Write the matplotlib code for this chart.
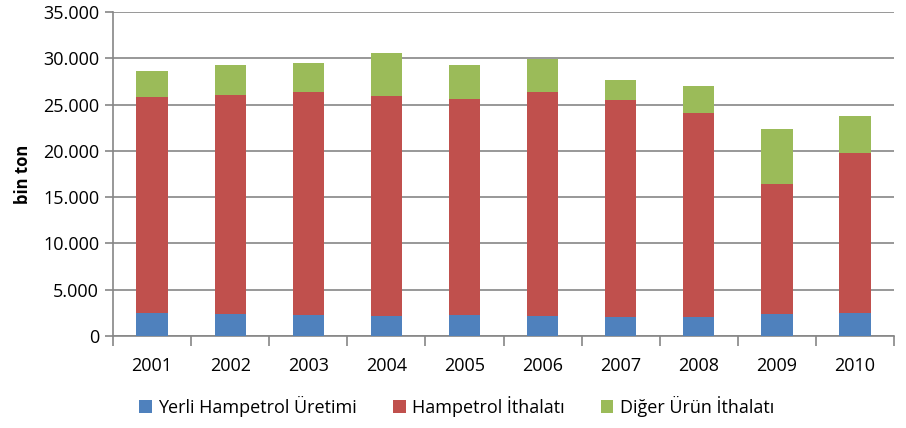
import matplotlib
matplotlib.use("Agg")
import matplotlib.pyplot as plt
import matplotlib.ticker as mticker
import numpy as np

# bin ton
years = ["2001", "2002", "2003", "2004", "2005", "2006", "2007", "2008", "2009", "2010"]
yerli = [2480, 2410, 2270, 2200, 2270, 2200, 2050, 2050, 2410, 2480]
hampetrol_ithalat = [23320, 23590, 24080, 23700, 23330, 24150, 23450, 22030, 13990, 17280]
diger_urun = [2800, 3270, 3150, 4660, 3670, 3550, 2150, 2920, 5950, 4000]
labels = ["Yerli Hampetrol Üretimi", "Hampetrol İthalatı", "Diğer Ürün İthalatı"]

plt.rcParams['font.family'] = ['Open Sans', 'DejaVu Sans']
grid_col = "#868686"

fig = plt.figure(figsize=(9.06, 4.28), dpi=100)
fig.set_facecolor("w")
ax = fig.add_axes([0.1247, 0.215, 0.8621, 0.757])

x = np.arange(len(years))
w = 0.4
b1 = ax.bar(x, yerli, width=w, color="#4F81BD", label=labels[0], zorder=3)
b2 = ax.bar(x, hampetrol_ithalat, width=w, bottom=yerli, color="#C0504D",
            label=labels[1], zorder=3)
bottom2 = np.array(yerli) + np.array(hampetrol_ithalat)
b3 = ax.bar(x, diger_urun, width=w, bottom=bottom2, color="#9BBB59",
            label=labels[2], zorder=3)

ax.set_xlim(-0.5, len(years) - 0.5)
ax.set_ylim(0, 35000)
ax.yaxis.set_major_locator(mticker.MultipleLocator(5000))
ax.yaxis.set_major_formatter(mticker.FuncFormatter(
    lambda v, p: "{:,.0f}".format(v).replace(",", ".")))
ax.yaxis.grid(True, color=grid_col, linewidth=1.2, zorder=0)

# category labels centred, tick marks at the boundaries
ax.set_xticks(x)
ax.set_xticklabels(years)
ax.tick_params(axis='x', which='major', length=0, pad=15, labelsize=13)
ax.set_xticks(np.arange(len(years) + 1) - 0.5, minor=True)
ax.tick_params(axis='x', which='minor', length=7, color=grid_col, width=1.2)
ax.tick_params(axis='y', length=6, color=grid_col, width=1.2, labelsize=13, pad=4)

for s in ["top", "right"]:
    ax.spines[s].set_visible(False)
for s in ["left", "bottom"]:
    ax.spines[s].set_color(grid_col)
    ax.spines[s].set_linewidth(1.2)

ax.set_ylabel("bin ton", fontsize=12, fontweight="bold", labelpad=8)

fig.legend(handles=[b1, b2, b3], labels=labels, loc="lower center",
           bbox_to_anchor=(0.504, -0.012), ncol=3, frameon=False, fontsize=13,
           handlelength=0.7, handleheight=0.7, handletextpad=0.35,
           columnspacing=2.0)

fig.savefig("out.png", dpi=100, facecolor="w")
